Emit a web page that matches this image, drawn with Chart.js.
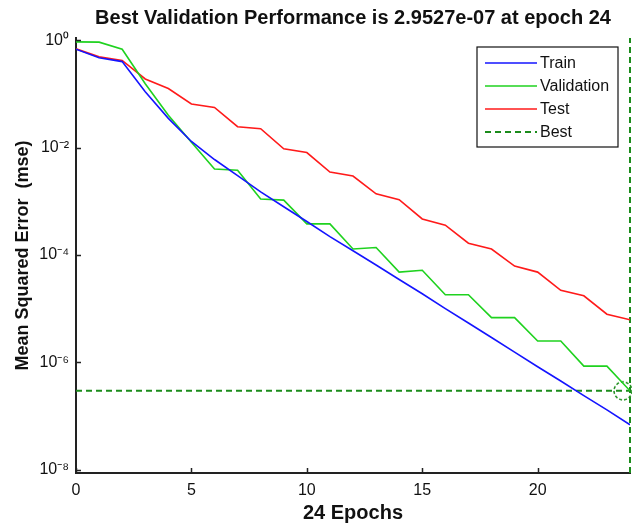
<!DOCTYPE html>
<html>
<head>
<meta charset="utf-8">
<script src="https://cdn.jsdelivr.net/npm/chart.js@4.4.0/dist/chart.umd.min.js"></script>
<style>
  html, body { margin: 0; padding: 0; background: #fff; }
  #wrap { width: 632px; height: 525px; }
</style>
</head>
<body>
<div id="wrap"><canvas id="perfChart" width="632" height="525"></canvas></div>
<script>
// values (mse per epoch)
const epochs = [0, 1, 2, 3, 4, 5, 6, 7, 8, 9, 10, 11, 12, 13, 14, 15, 16, 17, 18, 19, 20, 21, 22, 23, 24];
const trainMse = [6.8e-1, 4.7e-1, 4.0e-1, 1.1e-1, 3.5e-2, 1.3e-2, 6.0e-3, 3.0e-3, 1.5e-3, 7.9e-4,
  4.2e-4, 2.2e-4, 1.2e-4, 6.5e-5, 3.5e-5, 1.9e-5, 1.0e-5, 5.4e-6, 2.9e-6, 1.55e-6,
  8.3e-7, 4.5e-7, 2.4e-7, 1.3e-7, 6.9e-8];
const validationMse = [9.3e-1, 9.2e-1, 6.8e-1, 1.55e-1, 4.0e-2, 1.26e-2, 4.0e-3, 3.8e-3, 1.1e-3, 1.05e-3,
  3.8e-4, 3.8e-4, 1.29e-4, 1.38e-4, 4.8e-5, 5.2e-5, 1.82e-5, 1.82e-5, 6.8e-6, 6.8e-6,
  2.5e-6, 2.5e-6, 8.5e-7, 8.5e-7, 2.9527e-7];
const testMse = [6.9e-1, 4.9e-1, 4.2e-1, 1.9e-1, 1.26e-1, 6.5e-2, 5.6e-2, 2.45e-2, 2.25e-2, 9.5e-3,
  8.1e-3, 3.5e-3, 2.95e-3, 1.38e-3, 1.07e-3, 4.7e-4, 3.6e-4, 1.66e-4, 1.29e-4, 6.2e-5,
  4.8e-5, 2.2e-5, 1.74e-5, 7.9e-6, 6.2e-6];
const bestEpoch = 24;
const bestMse = 2.9527e-7;

const xTickValues = [0, 5, 10, 15, 20];
const yTickValues = [1e0, 1e-2, 1e-4, 1e-6, 1e-8];
const yTickLabels = ['10⁰', '10⁻²', '10⁻⁴', '10⁻⁶', '10⁻⁸'];
const yMin = 8.7e-9;
const yMax = 1.1e0;

const bestGreen = '#1b8c1b';
Chart.defaults.font.family = "'Liberation Sans', Arial, sans-serif";
Chart.defaults.color = '#111';

const pts = arr => epochs.map((e, i) => ({ x: e, y: arr[i] }));

// dashed circle used as the marker of the best point
// (drawn a little left of the image centre so it stays inside the canvas edge)
const ring = document.createElement('canvas');
ring.width = 36; ring.height = 24;
(function () {
  const c = ring.getContext('2d');
  c.strokeStyle = bestGreen;
  c.lineWidth = 1.5;
  c.setLineDash([3, 2]);
  c.beginPath();
  c.arc(11, 12, 9, 0, Math.PI * 2);
  c.stroke();
})();

// legend box in upper right of the axes
const boxLegend = {
  id: 'boxLegend',
  afterDatasetsDraw(chart) {
    const { ctx, chartArea } = chart;
    const items = chart.data.datasets.filter(d => d.inLegend);
    const w = 141, h = 100;
    const left = chartArea.right - 12 - w, top = chartArea.top + 9;
    ctx.save();
    ctx.fillStyle = '#fff';
    ctx.fillRect(left, top, w, h);
    ctx.strokeStyle = '#111';
    ctx.lineWidth = 1.2;
    ctx.strokeRect(left, top, w, h);
    ctx.font = "16px 'Liberation Sans', Arial, sans-serif";
    ctx.textBaseline = 'middle';
    items.forEach((d, i) => {
      const y = top + 16 + i * 23;
      ctx.strokeStyle = d.borderColor;
      ctx.lineWidth = d.borderWidth;
      ctx.setLineDash(d.borderDash || []);
      ctx.beginPath();
      ctx.moveTo(left + 8, y);
      ctx.lineTo(left + 60, y);
      ctx.stroke();
      ctx.setLineDash([]);
      ctx.fillStyle = '#111';
      ctx.fillText(d.label, left + 63, y + 1);
    });
    ctx.restore();
  }
};

// matlab-style ticks pointing into the axes
const innerTicks = {
  id: 'innerTicks',
  afterDraw(chart) {
    const { ctx, chartArea, scales } = chart;
    ctx.save();
    ctx.strokeStyle = '#222';
    ctx.lineWidth = 1.5;
    ctx.beginPath();
    xTickValues.forEach(v => {
      const px = Math.round(scales.x.getPixelForValue(v)) + 0.5;
      ctx.moveTo(px, chartArea.bottom);
      ctx.lineTo(px, chartArea.bottom - 5);
    });
    yTickValues.forEach(v => {
      const py = Math.round(scales.y.getPixelForValue(v)) + 0.5;
      ctx.moveTo(chartArea.left, py);
      ctx.lineTo(chartArea.left + 5, py);
    });
    ctx.stroke();
    ctx.restore();
  }
};

new Chart(document.getElementById('perfChart'), {
  type: 'line',
  data: {
    datasets: [
      { label: 'Train', data: pts(trainMse), borderColor: '#1414ff', borderWidth: 1.6, pointRadius: 0, inLegend: true },
      { label: 'Validation', data: pts(validationMse), borderColor: '#1fd21f', borderWidth: 1.6, pointRadius: 0, inLegend: true },
      { label: 'Test', data: pts(testMse), borderColor: '#ff1a1a', borderWidth: 1.6, pointRadius: 0, inLegend: true },
      { label: 'Best', data: [{ x: 0, y: bestMse }, { x: bestEpoch, y: bestMse }],
        borderColor: bestGreen, borderWidth: 2, borderDash: [6, 4], pointRadius: 0, inLegend: true },
      { label: 'Best epoch', data: [{ x: bestEpoch, y: yMin }, { x: bestEpoch, y: yMax }],
        borderColor: bestGreen, borderWidth: 2, borderDash: [6, 4], pointRadius: 0, clip: false },
      { label: 'Best point', data: [{ x: bestEpoch, y: bestMse }], showLine: false,
        pointStyle: ring, pointRadius: 10, clip: false }
    ]
  },
  options: {
    responsive: false,
    animation: false,
    devicePixelRatio: 1,
    layout: { autoPadding: false, padding: { left: 0, right: 2, top: 0, bottom: 0 } },
    plugins: {
      legend: { display: false },
      tooltip: { enabled: false },
      title: {
        display: true,
        fullSize: false,
        text: 'Best Validation Performance is 2.9527e-07 at epoch 24',
        font: { size: 20, weight: 'bold' },
        color: '#111',
        padding: { top: 6, bottom: 8 }
      }
    },
    scales: {
      x: {
        type: 'linear',
        min: 0,
        max: bestEpoch,
        grid: { display: false, drawTicks: false },
        border: { display: true, color: '#222', width: 2 },
        afterBuildTicks: s => { s.ticks = xTickValues.map(v => ({ value: v })); },
        afterFit: s => { s.height = 52; s.paddingLeft = 0; s.paddingRight = 0; },
        ticks: { padding: 8, font: { size: 16 }, color: '#111', maxRotation: 0 },
        title: { display: true, text: '24 Epochs', font: { size: 20, weight: 'bold' }, color: '#111', padding: { top: 0, bottom: 0 } }
      },
      y: {
        type: 'logarithmic',
        min: yMin,
        max: yMax,
        grid: { display: false, drawTicks: false },
        border: { display: true, color: '#222', width: 2 },
        afterBuildTicks: s => { s.ticks = yTickValues.map(v => ({ value: v })); },
        afterFit: s => { s.width = 76; s.paddingTop = 0; s.paddingBottom = 0; },
        ticks: {
          padding: 7,
          font: { size: 16 },
          color: '#111',
          callback: v => yTickLabels[yTickValues.indexOf(v)]
        },
        title: { display: true, text: 'Mean Squared Error  (mse)', font: { size: 18, weight: 'bold' }, color: '#111', padding: { top: 12, bottom: 0 } }
      }
    }
  },
  plugins: [boxLegend, innerTicks]
});
</script>
</body>
</html>
